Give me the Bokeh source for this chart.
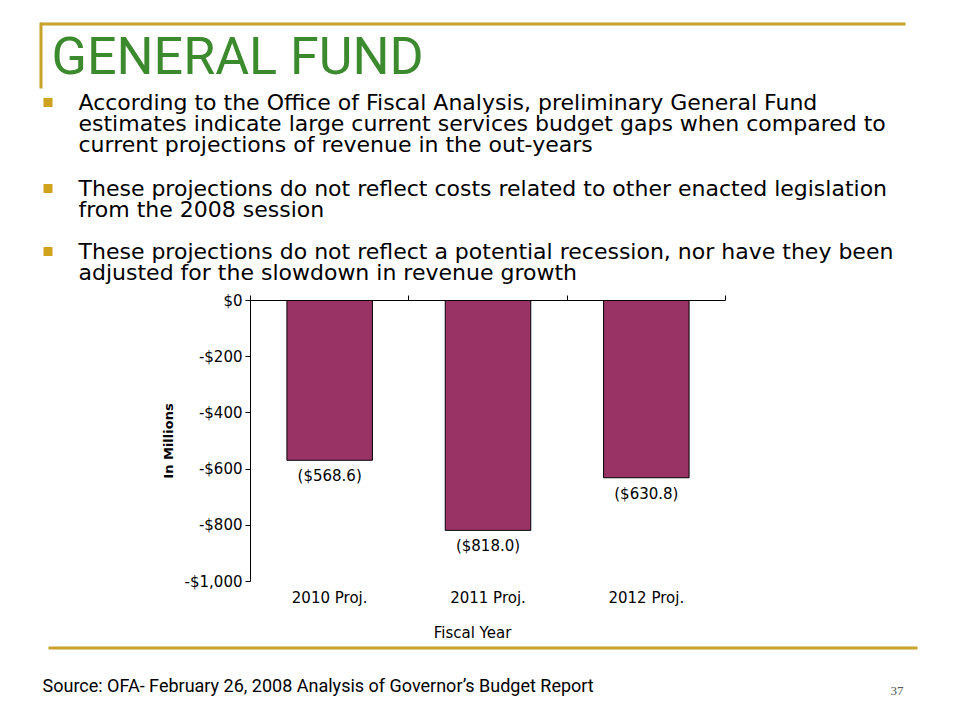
from bokeh.plotting import figure
from bokeh.models import LinearAxis, FixedTicker, Range1d, ColumnDataSource
from bokeh.core.properties import value
from bokeh.embed import file_html
from bokeh.resources import INLINE

# ---- data ----
categories = ["2010 Proj.", "2011 Proj.", "2012 Proj."]
gap_values = [-568.6, -818.0, -630.8]
gap_labels = ["($568.6)", "($818.0)", "($630.8)"]
y_ticks = [0, -200, -400, -600, -800, -1000]
y_tick_labels = ["$0", "-$200", "-$400", "-$600", "-$800", "-$1,000"]
title_text = "GENERAL FUND"
bullets = [
    ["According to the Office of Fiscal Analysis, preliminary General Fund",
     "estimates indicate large current services budget gaps when compared to",
     "current projections of revenue in the out-years"],
    ["These projections do not reflect costs related to other enacted legislation",
     "from the 2008 session"],
    ["These projections do not reflect a potential recession, nor have they been",
     "adjusted for the slowdown in revenue growth"],
]
source_text = "Source: OFA- February 26, 2008 Analysis of Governor\u2019s Budget Report"
page_number = "37"

# ---- layout constants (pixels) ----
W, H = 944, 704
FL, FT, FR, FB = 250, 300, 725, 581   # chart plot area
NCAT = len(categories)
YMIN, YMAX = -1000, 0
FONT = "DejaVu Sans"
GOLD = "#C8A22C"
BULLET = "#CFA21D"

# chart ranges mapped onto the whole canvas so the plot area lands at FL..FR / FT..FB
px_per_cat = (FR - FL) / NCAT
px_per_val = (FB - FT) / (YMAX - YMIN)
cx = Range1d(-FL / px_per_cat, NCAT + (W - FR) / px_per_cat)
cy = Range1d(YMAX - (H - FT) / px_per_val, YMAX + FT / px_per_val)

p = figure(width=W, height=H, output_backend="svg", toolbar_location=None,
           x_range=Range1d(0, W), y_range=Range1d(H, 0),
           x_axis_location=None, y_axis_location=None, min_border=0)
p.extra_x_ranges = {"cx": cx}
p.extra_y_ranges = {"cy": cy}
p.outline_line_color = None
p.xgrid.visible = False
p.ygrid.visible = False
p.background_fill_color = "white"
p.border_fill_color = "white"

# ---------------- slide header ----------------
p.quad(left=[40, 39], right=[905, 42], top=[22, 22], bottom=[25, 88],
       fill_color=GOLD, line_color=None)
p.text(x=[51], y=[56], text=[title_text], text_font=value("Roboto"),
       text_font_size="52px", text_color="#3C8A2E", text_baseline="middle")

line_centers = [[102, 123, 144], [188, 209], [251, 272]]
bx, by, tx, ty, tt = [], [], [], [], []
for lines, ys in zip(bullets, line_centers):
    bx.append(47.5)
    by.append(ys[0])
    for t, yy in zip(lines, ys):
        tx.append(78)
        ty.append(yy)
        tt.append(t)
p.rect(x=bx, y=by, width=9, height=9, fill_color=BULLET, line_color=None)
p.text(x=tx, y=ty, text=tt, text_font=value(FONT), text_font_size="22px",
       text_color="black", text_baseline="middle")

# ---------------- chart ----------------
xs = [i + 0.5 for i in range(NCAT)]
src = ColumnDataSource(dict(x=xs, top=[0] * NCAT, bottom=gap_values, lab=gap_labels, y=gap_values))
p.vbar(x="x", top="top", bottom="bottom", width=0.54, source=src,
       x_range_name="cx", y_range_name="cy",
       fill_color="#993366", line_color="black", line_width=1)
p.text(x="x", y="y", text="lab", source=src, x_range_name="cx", y_range_name="cy",
       text_align="center", text_baseline="top", y_offset=7,
       text_font=value(FONT), text_font_size="15px", text_color="black")

yax = LinearAxis(y_range_name="cy", fixed_location=FL, bounds=(YMIN, YMAX),
                 ticker=FixedTicker(ticks=y_ticks),
                 major_label_overrides={t: l for t, l in zip(y_ticks, y_tick_labels)},
                 axis_label="In Millions")
yax.axis_line_color = "black"
yax.major_tick_out = 5
yax.major_tick_in = 0
yax.minor_tick_line_color = None
yax.major_label_text_font = FONT
yax.major_label_text_font_size = "15px"
yax.major_label_text_color = "black"
yax.major_label_standoff = 3
yax.axis_label_text_font = FONT
yax.axis_label_text_font_size = "13px"
yax.axis_label_text_font_style = "bold"
yax.axis_label_text_color = "black"
yax.axis_label_standoff = 6
p.add_layout(yax, "left")

tax = LinearAxis(x_range_name="cx", y_range_name="cy", fixed_location=YMAX, bounds=(0, NCAT),
                 ticker=FixedTicker(ticks=list(range(NCAT + 1))))
tax.axis_line_color = "black"
tax.major_tick_out = 5
tax.major_tick_in = 0
tax.minor_tick_line_color = None
tax.major_label_text_color = None
tax.major_label_text_font_size = "1px"
tax.major_label_standoff = 0
p.add_layout(tax, "above")

bax = LinearAxis(x_range_name="cx", y_range_name="cy", fixed_location=YMIN,
                 ticker=FixedTicker(ticks=xs),
                 major_label_overrides={x: c for x, c in zip(xs, categories)},
                 axis_label="Fiscal Year")
bax.axis_line_color = None
bax.major_tick_line_color = None
bax.major_tick_out = 0
bax.major_tick_in = 0
bax.minor_tick_line_color = None
bax.major_label_text_font = FONT
bax.major_label_text_font_size = "15px"
bax.major_label_text_color = "black"
bax.major_label_standoff = 7
bax.axis_label_text_font = FONT
bax.axis_label_text_font_size = "15px"
bax.axis_label_text_font_style = "normal"
bax.axis_label_text_color = "black"
bax.axis_label_standoff = 14
p.add_layout(bax, "below")

# ---------------- footer ----------------
p.quad(left=[48], right=[917], top=[646], bottom=[649], fill_color=GOLD, line_color=None)
p.text(x=[42], y=[685], text=[source_text], text_font=value("Roboto"),
       text_font_size="18px", text_color="black", text_baseline="middle")
p.text(x=[890], y=[690], text=[page_number], text_font=value("Liberation Serif"),
       text_font_size="13px", text_color="#555555", text_baseline="middle")

open("out.html", "w").write(file_html(p, INLINE))
